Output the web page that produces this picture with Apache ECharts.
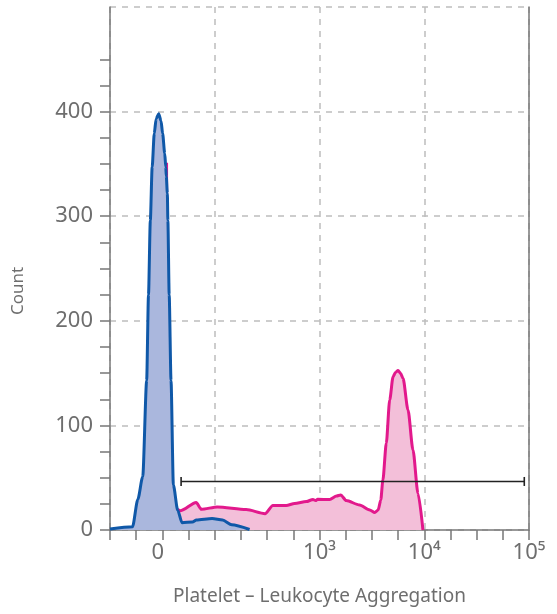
<!DOCTYPE html>
<html>
<head>
<meta charset="utf-8">
<script src="https://cdn.jsdelivr.net/npm/echarts@6/dist/echarts.min.js"></script>
<style>
html,body{margin:0;padding:0;background:#fff;}
#chart{width:557px;height:614px;}
</style>
</head>
<body>
<div id="chart"></div>
<script>
// Display coordinate on the x axis: biexponential-like scale, one unit per tick
// 0 -> "0", 6 -> 10^3, 10 -> 10^4, 14 -> 10^5
const xTickLabels = {0: '0', 6: '10³', 10: '10⁴', 14: '10⁵'};
const yTickValues = [0, 100, 200, 300, 400];

// Negative population (blue)
const blueSeries = [
  [-2, 1], [-1.14, 3], [-0.94, 29], [-0.75, 51], [-0.60, 143], [-0.53, 225],
  [-0.46, 296], [-0.39, 347], [-0.31, 379], [-0.24, 393], [-0.14, 398],
  [-0.05, 391], [0.01, 379], [0.09, 360], [0.13, 347], [0.15, 338],
  [0.19, 322], [0.21, 296], [0.26, 225], [0.33, 143], [0.42, 43],
  [0.585, 19], [0.75, 7], [1.15, 7.6], [1.3, 9.5], [1.9, 11], [2.3, 9.5],
  [2.65, 5], [3.33, 0.5]
];

// Positive population (pink)
const pinkSeries = [
  [0.16, 351], [0.17, 25], [0.70, 18.5], [1.29, 26.3], [1.49, 19.8],
  [2.10, 22], [3.20, 19.5], [3.92, 15.6], [4.22, 23.4], [4.73, 23.4],
  [5.05, 25.3], [5.50, 27.2], [5.75, 29.2], [5.85, 28.2], [5.93, 29.3],
  [6.39, 29.2], [6.65, 32.5], [6.81, 33.5], [7.02, 28.2], [7.53, 23.9],
  [7.92, 19.1], [8.11, 16.7], [8.24, 19.1], [8.34, 28.7], [8.42, 47.8],
  [8.55, 82.9], [8.68, 124.3], [8.81, 146.6], [8.90, 150.6], [9.00, 152.5],
  [9.10, 149.6], [9.19, 145], [9.38, 114.7], [9.57, 76.5], [9.76, 35.1],
  [9.95, 0]
];

// Gate marker
const gateRange = [0.715, 13.82];
const gateLevel = 46.4;

const FONT = 'Noto Sans';
const GRAY = '#6e6e6e';
const AXIS = '#777';

const chart = echarts.init(document.getElementById('chart'), null, {renderer: 'canvas'});

chart.setOption({
  animation: false,
  backgroundColor: '#fff',
  textStyle: {fontFamily: FONT},
  grid: [
    {left: 110, right: 28, top: 7, bottom: 84},
    {left: 110, right: 28, top: 59.3, bottom: 84}
  ],
  xAxis: [
    {
      type: 'value', gridIndex: 0, min: -2, max: 14, interval: 1,
      axisLine: {show: true, onZero: false, lineStyle: {color: AXIS, width: 1.5}},
      axisTick: {show: true, length: 10, lineStyle: {color: AXIS, width: 1.5}},
      axisLabel: {
        margin: 12, color: GRAY, fontSize: 22, fontFamily: FONT,
        formatter: v => {
          const t = xTickLabels[v];
          if (t === undefined) return '';
          if (v === 0) return '{z|' + t + '}';
          return t;
        },
        rich: {z: {fontSize: 22, color: GRAY, fontFamily: FONT, padding: [0, 9, 0, 0]}}
      },
      splitLine: {show: false},
      name: 'Platelet – Leukocyte Aggregation',
      nameLocation: 'middle', nameGap: 57,
      nameTextStyle: {fontSize: 19, color: GRAY, fontFamily: FONT}
    },
    {
      type: 'value', gridIndex: 0, min: -2, max: 14, interval: 4,
      axisLine: {show: false, onZero: false}, axisTick: {show: false}, axisLabel: {show: false},
      splitLine: {show: true, lineStyle: {color: '#bdbdbd', width: 1.5, type: [6, 6]}}
    },
    {
      type: 'value', gridIndex: 1, min: -2, max: 14, show: false,
      axisLine: {onZero: false}
    }
  ],
  yAxis: [
    {
      type: 'value', gridIndex: 0, min: 0, max: 500, interval: 100,
      axisLine: {show: true, onZero: false, lineStyle: {color: AXIS, width: 1.5}},
      axisTick: {show: false},
      axisLabel: {
        margin: 17, color: GRAY, fontSize: 22, fontFamily: FONT,
        formatter: v => yTickValues.indexOf(v) >= 0 ? String(v) : ''
      },
      splitLine: {show: true, lineStyle: {color: '#bdbdbd', width: 1.5, type: [6, 6]}},
      name: 'Count', nameLocation: 'middle', nameGap: 83,
      nameTextStyle: {fontSize: 17, color: GRAY, fontFamily: FONT, padding: [0, 45, 0, 0]}
    },
    {
      type: 'value', gridIndex: 0, min: 0, max: 500, position: 'right',
      axisLine: {show: true, onZero: false, lineStyle: {color: AXIS, width: 1.5}},
      axisTick: {show: false}, axisLabel: {show: false}, splitLine: {show: false}
    },
    {
      type: 'value', gridIndex: 1, min: 0, max: 450, interval: 25, position: 'left',
      axisLine: {show: false, onZero: false},
      axisTick: {show: true, length: 10, lineStyle: {color: AXIS, width: 1.5}},
      axisLabel: {show: false}, splitLine: {show: false}
    }
  ],
  series: [
    {
      name: 'Positive', type: 'line', xAxisIndex: 0, yAxisIndex: 0,
      data: pinkSeries, symbol: 'none', smooth: 0.25, smoothMonotone: 'x',
      lineStyle: {color: '#e2198c', width: 3},
      areaStyle: {color: '#f3bfd9', opacity: 1},
      z: 2
    },
    {
      name: 'Negative', type: 'line', xAxisIndex: 0, yAxisIndex: 0,
      data: blueSeries, symbol: 'none', smooth: 0.25, smoothMonotone: 'x',
      lineStyle: {color: '#0f58a8', width: 3},
      areaStyle: {color: '#aab7dd', opacity: 1},
      z: 3
    },
    {
      name: 'Gate', type: 'line', xAxisIndex: 0, yAxisIndex: 0,
      data: [[gateRange[0], gateLevel], [gateRange[1], gateLevel]],
      symbol: 'rect', symbolSize: [1.6, 9], showSymbol: true,
      lineStyle: {color: '#222', width: 1.5},
      itemStyle: {color: '#222'},
      silent: true, z: 4
    }
  ]
});
</script>
</body>
</html>
